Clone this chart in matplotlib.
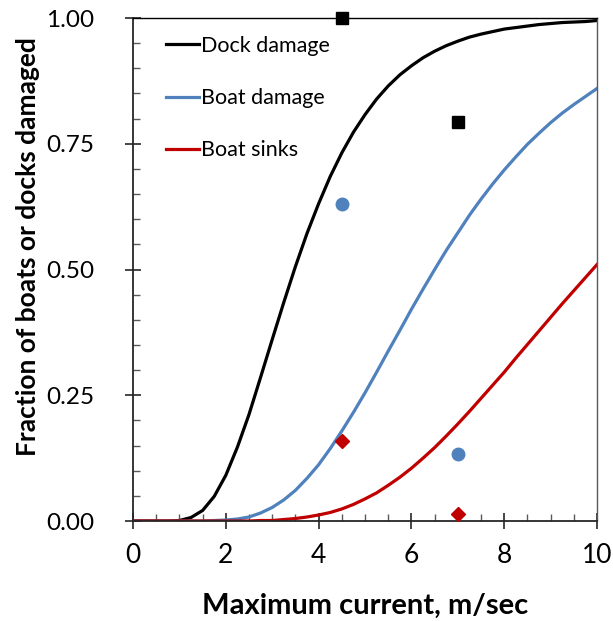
import numpy as np
import matplotlib
matplotlib.use("Agg")
import matplotlib.pyplot as plt
from matplotlib.ticker import MultipleLocator

plt.rcParams["font.family"] = ["Lato", "DejaVu Sans"]

# curves (x step 0.25 m/s)
current = [0.0, 0.25, 0.5, 0.75, 1.0, 1.25, 1.5, 1.75, 2.0, 2.25, 2.5, 2.75,
           3.0, 3.25, 3.5, 3.75, 4.0, 4.25, 4.5, 4.75, 5.0, 5.25, 5.5, 5.75,
           6.0, 6.25, 6.5, 6.75, 7.0, 7.25, 7.5, 7.75, 8.0, 8.25, 8.5, 8.75,
           9.0, 9.25, 9.5, 9.75, 10.0]
dock_damage = [0.0, 0.0, 0.0, 0.0, 0.001, 0.007, 0.021, 0.049, 0.091, 0.147,
               0.212, 0.286, 0.361, 0.435, 0.506, 0.572, 0.631, 0.685, 0.732,
               0.773, 0.808, 0.839, 0.865, 0.887, 0.905, 0.921, 0.934, 0.945,
               0.954, 0.962, 0.968, 0.973, 0.978, 0.981, 0.984, 0.987, 0.989,
               0.991, 0.992, 0.993, 0.995]
boat_damage = [0.0, 0.0, 0.0, 0.0, 0.0, 0.0, 0.0, 0.001, 0.002, 0.004,
               0.008, 0.016, 0.027, 0.042, 0.061, 0.085, 0.112, 0.144, 0.179,
               0.216, 0.255, 0.296, 0.338, 0.379, 0.421, 0.461, 0.500, 0.538,
               0.573, 0.608, 0.640, 0.670, 0.698, 0.724, 0.749, 0.771, 0.792,
               0.811, 0.828, 0.844, 0.860]
boat_sinks = [0.0, 0.0, 0.0, 0.0, 0.0, 0.0, 0.0, 0.0, 0.0, 0.0,
              0.0, 0.001, 0.001, 0.003, 0.005, 0.008, 0.012, 0.017, 0.024,
              0.033, 0.044, 0.056, 0.071, 0.087, 0.105, 0.125, 0.146, 0.169,
              0.193, 0.218, 0.244, 0.270, 0.296, 0.324, 0.351, 0.378, 0.405,
              0.432, 0.458, 0.484, 0.510]

# observed points
obs_current = [4.5, 7.0]
obs_dock = [1.00, 0.793]
obs_boat = [0.630, 0.133]
obs_sinks = [0.159, 0.014]

black = "#000000"
blue = "#4F81BD"
red = "#C00000"

fig = plt.figure(figsize=(6.13, 6.21), dpi=100)
ax = fig.add_axes([0.217, 0.161, 0.757, 0.810])

ax.plot(current, dock_damage, color=black, lw=2.3, label="Dock damage")
ax.plot(current, boat_damage, color=blue, lw=2.3, label="Boat damage")
ax.plot(current, boat_sinks, color=red, lw=2.3, label="Boat sinks")

ax.plot(obs_current, obs_dock, "s", color=black, ms=8.5, clip_on=False, zorder=5)
ax.plot(obs_current, obs_boat, "o", color=blue, ms=9, clip_on=False, zorder=5)
ax.plot(obs_current, obs_sinks, "D", color=red, ms=7, clip_on=False, zorder=5)

ax.set_xlim(0, 10)
ax.set_ylim(0, 1)
ax.xaxis.set_major_locator(MultipleLocator(2))
ax.xaxis.set_minor_locator(MultipleLocator(0.5))
ax.yaxis.set_major_locator(MultipleLocator(0.25))
ax.yaxis.set_minor_locator(MultipleLocator(0.05))
ax.yaxis.set_major_formatter(matplotlib.ticker.FormatStrFormatter("%.2f"))

ax.tick_params(which="major", direction="inout", length=12, width=1.2,
               labelsize=19, color="#262626")
ax.tick_params(axis="x", which="major", pad=10)
ax.tick_params(axis="y", which="major", pad=22, labelsize=17.5)
ax.tick_params(which="minor", direction="in", length=5, width=1, color="#595959")
ax.tick_params(axis="x", which="both", top=False)
ax.tick_params(axis="y", which="both", right=False)

for side in ["left", "bottom"]:
    ax.spines[side].set_linewidth(1.3)
    ax.spines[side].set_color("#262626")
ax.spines["top"].set_linewidth(1.0)
ax.spines["right"].set_linewidth(1.0)
ax.spines["right"].set_color("#595959")

ax.set_xlabel("Maximum current, m/sec", fontsize=21, fontweight="bold", labelpad=18)
ax.set_ylabel("Fraction of boats or docks damaged", fontsize=19, fontweight="bold")
ax.yaxis.set_label_coords(-0.2, 0.545)

ax.legend(loc="upper left", bbox_to_anchor=(0.03, 1.003), frameon=False,
          fontsize=15.5, handlelength=1.5, handletextpad=0.1, labelspacing=1.5)

fig.savefig("out.png", dpi=100)
